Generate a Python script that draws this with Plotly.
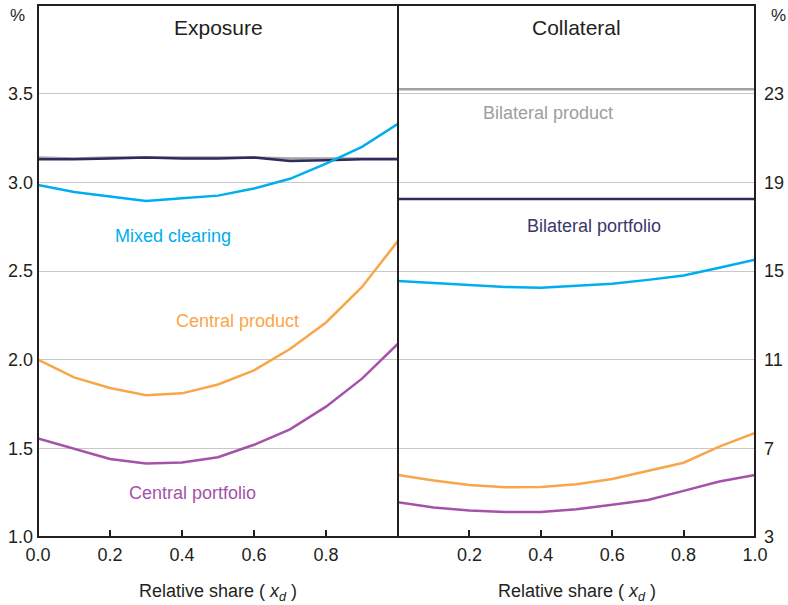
import plotly.graph_objects as go

x = [0.0, 0.1, 0.2, 0.3, 0.4, 0.5, 0.6, 0.7, 0.8, 0.9, 1.0]

# Exposure panel (left, %)
exp_mixed = [2.985, 2.945, 2.92, 2.895, 2.91, 2.925, 2.965, 3.02, 3.105, 3.20, 3.33]
exp_central_product = [2.0, 1.90, 1.84, 1.80, 1.81, 1.86, 1.94, 2.06, 2.21, 2.41, 2.67]
exp_central_portfolio = [1.556, 1.50, 1.44, 1.414, 1.42, 1.45, 1.52, 1.607, 1.735, 1.893, 2.09]
exp_bilateral_product = [3.14, 3.135, 3.14, 3.14, 3.14, 3.14, 3.14, 3.135, 3.135, 3.135, 3.135]
exp_bilateral_portfolio = [3.13, 3.13, 3.135, 3.14, 3.135, 3.135, 3.14, 3.12, 3.125, 3.13, 3.13]

# Collateral panel (right, %)
col_mixed = [14.55, 14.45, 14.35, 14.28, 14.25, 14.33, 14.43, 14.6, 14.8, 15.15, 15.51]
col_central_product = [5.8, 5.55, 5.35, 5.24, 5.26, 5.38, 5.62, 6.0, 6.35, 7.08, 7.7]
col_central_portfolio = [4.57, 4.33, 4.2, 4.13, 4.13, 4.25, 4.45, 4.67, 5.08, 5.5, 5.8]
col_bilateral_product = [23.2] * 11
col_bilateral_portfolio = [18.25] * 11

left_yticks = [1.0, 1.5, 2.0, 2.5, 3.0, 3.5]
right_yticks = [3, 7, 11, 15, 19, 23]
left_xticks = [0.0, 0.2, 0.4, 0.6, 0.8]
right_xticks = [0.2, 0.4, 0.6, 0.8, 1.0]

C_MIX = "#00aeef"
C_CPROD = "#f9a64a"
C_CPORT = "#a452aa"
C_BPROD = "#a3a3a5"
C_BPORT = "#2e2c5c"
INK = "#231f20"

FONT = "Liberation Sans, Arial, sans-serif"

fig = go.Figure()

def add(xs, ys, color, xa, ya):
    fig.add_trace(go.Scatter(x=xs, y=ys, mode="lines", line=dict(color=color, width=2.5),
                             xaxis=xa, yaxis=ya, showlegend=False, hoverinfo="skip"))

add(x, exp_bilateral_product, C_BPROD, "x", "y")
add(x, exp_bilateral_portfolio, C_BPORT, "x", "y")
add(x, exp_mixed, C_MIX, "x", "y")
add(x, exp_central_product, C_CPROD, "x", "y")
add(x, exp_central_portfolio, C_CPORT, "x", "y")

add(x, col_bilateral_product, C_BPROD, "x2", "y2")
add(x, col_bilateral_portfolio, C_BPORT, "x2", "y2")
add(x, col_mixed, C_MIX, "x2", "y2")
add(x, col_central_product, C_CPROD, "x2", "y2")
add(x, col_central_portfolio, C_CPORT, "x2", "y2")

split = 360 / 717

axis_common = dict(showline=False, automargin=False, zeroline=False,
                   tickfont=dict(family=FONT, size=18, color=INK))

fig.update_layout(
    template="none",
    width=788, height=605,
    margin=dict(l=38, r=33, t=5, b=68, autoexpand=False),
    paper_bgcolor="white", plot_bgcolor="white",
    font=dict(family=FONT, color=INK),
    xaxis=dict(domain=[0, split], range=[0, 1], tickvals=left_xticks,
               ticktext=["0.0", "0.2", "0.4", "0.6", "0.8"], ticks="inside", ticklen=7,
               ticklabelstandoff=5, tickcolor=INK, tickwidth=1.5, showgrid=False, anchor="y",
               **axis_common),
    yaxis=dict(range=[1, 4], tickvals=left_yticks, ticktext=["1.0", "1.5", "2.0", "2.5", "3.0", "3.5"],
               ticks="", ticklabelstandoff=4, showgrid=True, gridcolor="#c8c8c8", gridwidth=1,
               anchor="x", **axis_common),
    xaxis2=dict(domain=[split, 1], range=[0, 1], tickvals=right_xticks,
                ticktext=["0.2", "0.4", "0.6", "0.8", "1.0"], ticks="inside", ticklen=7,
                ticklabelstandoff=5, tickcolor=INK, tickwidth=1.5, showgrid=False, anchor="y2",
                **axis_common),
    yaxis2=dict(range=[3, 27], tickvals=right_yticks, ticktext=[str(v) for v in right_yticks],
                ticks="", ticklabelstandoff=8, showgrid=True, gridcolor="#c8c8c8", gridwidth=1,
                anchor="x2", side="right", **axis_common),
    shapes=[
        dict(type="rect", xref="paper", yref="paper", x0=0, x1=1, y0=0, y1=1,
             line=dict(color=INK, width=2), layer="above"),
        dict(type="line", xref="paper", yref="paper", x0=split, x1=split, y0=0, y1=1,
             line=dict(color=INK, width=2), layer="above"),
    ],
)

ann = []
def txt(xr, yr, text, color, size=18, xa="x", ya="y", **kw):
    ann.append(dict(x=xr, y=yr, xref=xa, yref=ya, text=text, showarrow=False,
                    font=dict(family=FONT, size=size, color=color), **kw))

txt(0.375, 2.70, "Mixed clearing", C_MIX)
txt(0.555, 2.22, "Central product", C_CPROD)
txt(0.43, 1.25, "Central portfolio", C_CPORT)
txt(0.42, 22.15, "Bilateral product", "#9e9ea0", xa="x2", ya="y2")
txt(0.55, 17.05, "Bilateral portfolio", "#3a386a", xa="x2", ya="y2")

# panel titles
txt(0.5, 3.875, "Exposure", INK, size=21)
txt(0.5, 26.0, "Collateral", INK, size=21, xa="x2", ya="y2")

# % unit labels
ann.append(dict(x=-21 / 717, y=1 - 10 / 532, xref="paper", yref="paper", text="%", showarrow=False,
                xanchor="center", yanchor="middle", font=dict(family=FONT, size=17, color=INK)))
ann.append(dict(x=1 + 23 / 717, y=1 - 10 / 532, xref="paper", yref="paper", text="%", showarrow=False,
                xanchor="center", yanchor="middle", font=dict(family=FONT, size=17, color=INK)))

# x-axis titles
xt = "Relative share ( <i>x</i><sub><i>d</i></sub> )"
ann.append(dict(x=0.5, y=-55 / 532, xref="x domain", yref="paper", text=xt, showarrow=False,
                yanchor="middle", font=dict(family=FONT, size=18, color=INK)))
ann.append(dict(x=0.5, y=-55 / 532, xref="x2 domain", yref="paper", text=xt, showarrow=False,
                yanchor="middle", font=dict(family=FONT, size=18, color=INK)))

fig.update_layout(annotations=ann)

fig.write_html("out.html", config={"displayModeBar": False},
               post_script="document.body.style.margin='0px';")
